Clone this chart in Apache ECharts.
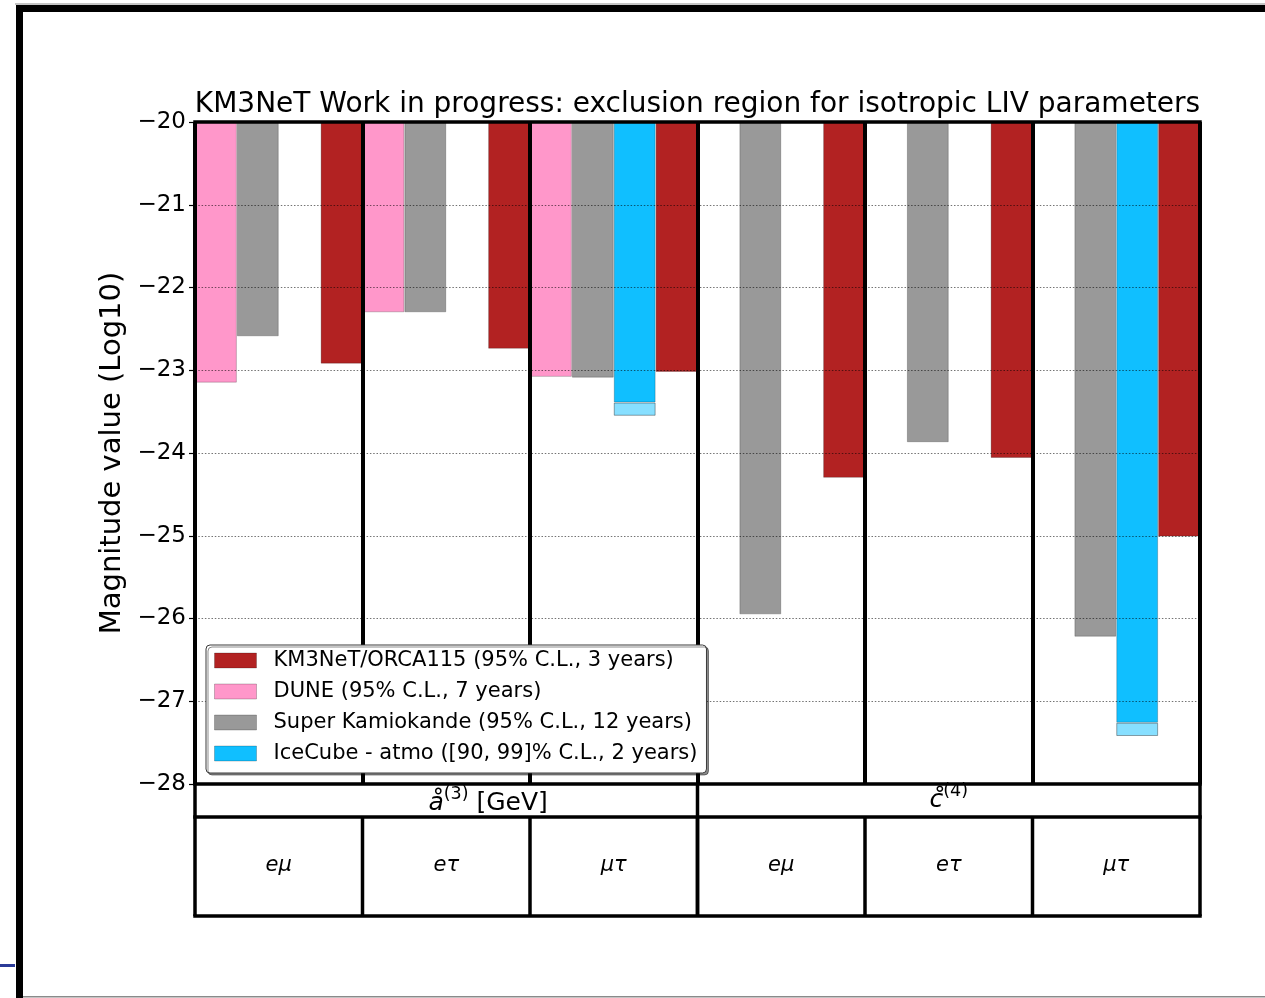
<!DOCTYPE html>
<html>
<head>
<meta charset="utf-8">
<script src="https://cdn.jsdelivr.net/npm/echarts@6/dist/echarts.min.js"></script>
<style>
  html, body { margin: 0; padding: 0; background: #fff; }
  #chart { width: 1265px; height: 998px; }
</style>
</head>
<body>
<div id="chart"></div>
<script>
// LIV operator families (table header) and flavour pairs (one column each)
const operatorHeaders = ['a3', 'c4'];
const flavours = ['eμ', 'eτ', 'μτ', 'eμ', 'eτ', 'μτ'];

// log10 of the excluded magnitude per experiment and flavour column
const dune       = [-23.15, -22.30, -23.08, null, null, null];
const superK     = [-22.59, -22.30, -23.09, -25.95, -23.87, -26.22];
const iceCube90  = [null, null, -23.39, null, null, -27.26];
const iceCube99  = [null, null, -23.55, null, null, -27.42];
const orca115    = [-22.92, -22.74, -23.02, -24.30, -24.06, -25.01];

// y axis range (log10 magnitude)
const yMin = -28, yMax = -20, yStep = 1;

const NAMES = {
  orca: 'KM3NeT/ORCA115 (95% C.L., 3 years)',
  dune: 'DUNE (95% C.L., 7 years)',
  sk: 'Super Kamiokande (95% C.L., 12 years)',
  ice: 'IceCube - atmo ([90, 99]% C.L., 2 years)',
  ice99: 'IceCube 99%'
};
const COLORS = {
  orca: '#b22222',
  dune: '#ff97ca',
  sk: '#999999',
  ice: '#10bfff',
  ice99: '#87dfff'
};

// page layout
const W = 1265, H = 998;
const plotLeft = 195, plotRight = 1200, plotTop = 122, plotBottom = 784;
const headerRowH = 33, flavourRowH = 99;
const FONT = 'DejaVu Sans';

// extra depth between the 90% and 99% IceCube limits (stacked below the 90% bar)
const iceCubeExtra = iceCube99.map((v, i) => (v == null || iceCube90[i] == null) ? null : +(v - iceCube90[i]).toFixed(3));

const barEdge = { borderColor: 'rgba(0,0,0,0.22)', borderWidth: 1 };
function barSeries(name, data, color, extra) {
  return Object.assign({
    name, type: 'bar', data,
    barGap: '0%', barCategoryGap: '0%',
    itemStyle: Object.assign({ color }, barEdge),
    emphasis: { disabled: true },
    animation: false
  }, extra || {});
}

const colW = (plotRight - plotLeft) / flavours.length;
const tableTop = plotBottom, rowMid = plotBottom + headerRowH, tableBottom = rowMid + flavourRowH;

const lineStyle = { stroke: '#000', lineWidth: 3.5 };
const graphics = [];
function hLine(x1, x2, y, style, z) {
  graphics.push({ type: 'line', z: z || 50, shape: { x1, y1: y, x2, y2: y }, style: style || lineStyle, silent: true });
}
function vLine(x, y1, y2, style, z) {
  graphics.push({ type: 'line', z: z || 50, shape: { x1: x, y1, x2: x, y2 }, style: style || lineStyle, silent: true });
}

// plot frame
graphics.push({ type: 'rect', z: 50, shape: { x: plotLeft, y: plotTop, width: plotRight - plotLeft, height: plotBottom - plotTop },
  style: { fill: null, stroke: '#000', lineWidth: 3.5 }, silent: true });
// table grid
hLine(plotLeft - 1.75, plotRight + 1.75, rowMid);
hLine(plotLeft - 1.75, plotRight + 1.75, tableBottom);
vLine(plotLeft, tableTop, tableBottom);
vLine(plotRight, tableTop, tableBottom);
vLine(plotLeft + colW * 3, tableTop, tableBottom);
for (let i = 1; i < flavours.length; i++) vLine(plotLeft + colW * i, rowMid, tableBottom);

// operator headers
graphics.push({
  type: 'text', z: 50, silent: true,
  style: {
    x: plotLeft + colW * 1.75, y: tableTop + headerRowH / 2, align: 'center', verticalAlign: 'middle',
    text: '{m|å}{s|(3)}{n| [GeV]}',
    rich: {
      m: { fontFamily: FONT, fontSize: 25, fontStyle: 'italic', fill: '#000', lineHeight: 30, verticalAlign: 'bottom' },
      s: { fontFamily: FONT, fontSize: 17.5, fill: '#000', lineHeight: 30, verticalAlign: 'top' },
      n: { fontFamily: FONT, fontSize: 25, fill: '#000', lineHeight: 30, verticalAlign: 'bottom' }
    }
  }
});
graphics.push({
  type: 'text', z: 50, silent: true,
  style: {
    x: plotLeft + colW * 4.5, y: tableTop + headerRowH / 2 - 3, align: 'center', verticalAlign: 'middle',
    text: '{m|c\u030A}{s|(4)}',
    rich: {
      m: { fontFamily: FONT, fontSize: 25, fontStyle: 'italic', fill: '#000', lineHeight: 30, verticalAlign: 'bottom' },
      s: { fontFamily: FONT, fontSize: 17.5, fill: '#000', lineHeight: 30, verticalAlign: 'top' }
    }
  }
});

// title
graphics.push({
  type: 'text', z: 50, silent: true,
  style: { x: (plotLeft + plotRight) / 2, y: 105, align: 'center', verticalAlign: 'middle',
    text: 'KM3NeT Work in progress: exclusion region for isotropic LIV parameters',
    fontFamily: FONT, fontSize: 28, fill: '#000' }
});

// surrounding page border
graphics.push({ type: 'rect', z: 60, silent: true, shape: { x: 15, y: 3.5, width: W - 15, height: 1 }, style: { fill: '#8a8a8a' } });
graphics.push({ type: 'rect', z: 60, silent: true, shape: { x: 16, y: 5, width: W - 16, height: 7 }, style: { fill: '#000' } });
graphics.push({ type: 'rect', z: 60, silent: true, shape: { x: 16, y: 5, width: 7, height: H - 5 }, style: { fill: '#000' } });
graphics.push({ type: 'rect', z: 60, silent: true, shape: { x: 23, y: H - 2, width: W - 23, height: 1.5 }, style: { fill: '#8a8a8a' } });
graphics.push({ type: 'rect', z: 60, silent: true, shape: { x: 0, y: 964, width: 15, height: 3 }, style: { fill: '#2b3b98' } });

const option = {
  backgroundColor: '#fff',
  animation: false,
  textStyle: { fontFamily: FONT },
  grid: { left: plotLeft, right: W - plotRight, top: plotTop, bottom: H - plotBottom, containLabel: false },
  legend: {
    data: [NAMES.orca, NAMES.dune, NAMES.sk, NAMES.ice],
    orient: 'vertical',
    left: 206, top: 645,
    itemWidth: 42, itemHeight: 15, itemGap: 10,
    icon: 'rect',
    padding: [5, 9, 9, 8],
    backgroundColor: '#fff',
    borderColor: '#3a3a3a', borderWidth: 1, borderRadius: 4,
    shadowColor: 'rgba(0,0,0,0.45)', shadowOffsetX: 2, shadowOffsetY: 2, shadowBlur: 0,
    itemStyle: { borderColor: 'rgba(0,0,0,0.22)', borderWidth: 1 },
    textStyle: { fontFamily: FONT, fontSize: 21, color: '#000', padding: [0, 0, 0, 12] },
    selectedMode: false,
    z: 20
  },
  xAxis: {
    type: 'category',
    data: flavours.map((f, i) => operatorHeaders[Math.floor(i / 3)] + '|' + f),
    boundaryGap: true,
    axisLine: { show: false },
    axisTick: { show: false },
    axisLabel: {
      interval: 0, margin: 71,
      fontFamily: FONT, fontSize: 21, fontStyle: 'italic', color: '#000',
      formatter: (v, i) => flavours[i]
    },
    splitLine: { show: true, interval: 0, lineStyle: { color: '#000', width: 4 } },
    z: 6
  },
  yAxis: {
    type: 'value',
    min: yMin, max: yMax, interval: yStep,
    name: 'Magnitude value (Log10)',
    nameLocation: 'middle', nameGap: 64,
    nameTextStyle: { fontFamily: FONT, fontSize: 29, color: '#000' },
    axisLine: { show: false },
    axisTick: { show: true, length: 6, lineStyle: { color: '#000', width: 1.2 } },
    axisLabel: {
      margin: 9, fontFamily: FONT, fontSize: 23, color: '#000',
      formatter: v => String(v).replace('-', '\u2212')
    },
    splitLine: { show: true, lineStyle: { color: 'rgba(0,0,0,0.55)', width: 1, type: [1.5, 1.8] } },
    z: 5
  },
  series: [
    barSeries(NAMES.dune, dune, COLORS.dune),
    barSeries(NAMES.sk, superK, COLORS.sk),
    barSeries(NAMES.ice, iceCube90, COLORS.ice, { stack: 'ice' }),
    barSeries(NAMES.ice99, iceCubeExtra, COLORS.ice99, { stack: 'ice', itemStyle: { color: COLORS.ice99, borderColor: 'rgba(0,0,0,0.35)', borderWidth: 1 } }),
    barSeries(NAMES.orca, orca115, COLORS.orca)
  ],
  graphic: { elements: graphics }
};

const chart = echarts.init(document.getElementById('chart'), null, { renderer: 'canvas', width: W, height: H });
chart.setOption(option);
</script>
</body>
</html>
